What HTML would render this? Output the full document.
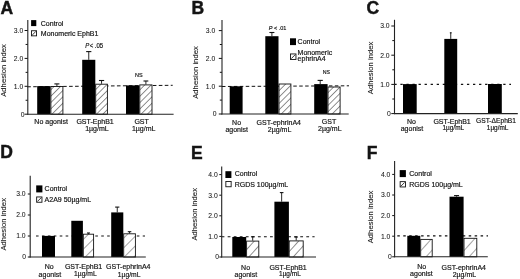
<!DOCTYPE html>
<html><head><meta charset="utf-8"><style>
html,body{margin:0;padding:0;background:#fff;width:520px;height:279px;overflow:hidden}
svg{display:block}
text{font-family:"Liberation Sans",sans-serif;fill:#141414;stroke:#141414;stroke-width:0.18px}
svg{will-change:transform}
</style></head><body>
<svg width="520" height="279" viewBox="0 0 520 279">
<defs>
<pattern id="hatch" patternUnits="userSpaceOnUse" width="4.5" height="6" patternTransform="rotate(45)">
<rect width="4.5" height="6" fill="#fff"/><line x1="0" y1="0" x2="0" y2="6" stroke="#222" stroke-width="1.0"/></pattern>
<pattern id="hatch2" patternUnits="userSpaceOnUse" width="6.6" height="6" patternTransform="rotate(42)">
<rect width="6.6" height="6" fill="#fff"/><line x1="0" y1="0" x2="0" y2="6" stroke="#222" stroke-width="1.0"/></pattern>
<pattern id="hatchD" patternUnits="userSpaceOnUse" width="6.9" height="6" patternTransform="rotate(45)">
<rect width="6.9" height="6" fill="#fff"/><line x1="0" y1="0" x2="0" y2="6" stroke="#333" stroke-width="0.9"/></pattern>
<pattern id="hatchF" patternUnits="userSpaceOnUse" width="8.0" height="6" patternTransform="rotate(42)">
<rect width="8.0" height="6" fill="#fff"/><line x1="0" y1="0" x2="0" y2="6" stroke="#333" stroke-width="0.9"/></pattern>
<pattern id="hatchs" patternUnits="userSpaceOnUse" width="5" height="5" patternTransform="rotate(45)">
<rect width="5" height="5" fill="#fff"/><line x1="0" y1="0" x2="0" y2="5" stroke="#222" stroke-width="1.1"/></pattern>
</defs>
<rect width="520" height="279" fill="#fff"/>
<text x="0" y="0" font-size="7.7" text-anchor="middle" transform="translate(6.0,70.5) rotate(-90)" style="stroke-width:0.1px">Adhesion index</text>
<line x1="24.60" y1="114.20" x2="27.80" y2="114.20" stroke="#111" stroke-width="1.0"/>
<text x="24.5" y="116.60000000000001" font-size="6.8" text-anchor="end" style="stroke-width:0.05px">0</text>
<line x1="25.60" y1="100.25" x2="27.80" y2="100.25" stroke="#111" stroke-width="1.0"/>
<line x1="24.60" y1="86.30" x2="27.80" y2="86.30" stroke="#111" stroke-width="1.0"/>
<text x="23.2" y="88.70000000000002" font-size="6.8" text-anchor="end" style="stroke-width:0.05px">1.0</text>
<line x1="25.60" y1="72.35" x2="27.80" y2="72.35" stroke="#111" stroke-width="1.0"/>
<line x1="24.60" y1="58.40" x2="27.80" y2="58.40" stroke="#111" stroke-width="1.0"/>
<text x="23.2" y="60.800000000000004" font-size="6.8" text-anchor="end" style="stroke-width:0.05px">2.0</text>
<line x1="25.60" y1="44.45" x2="27.80" y2="44.45" stroke="#111" stroke-width="1.0"/>
<line x1="24.60" y1="30.50" x2="27.80" y2="30.50" stroke="#111" stroke-width="1.0"/>
<text x="23.2" y="32.90000000000001" font-size="6.8" text-anchor="end" style="stroke-width:0.05px">3.0</text>
<line x1="27.24" y1="86.80" x2="172.70" y2="85.30" stroke="#111" stroke-width="1.0" stroke-dasharray="3.6 2.38"/>
<rect x="37.20" y="86.10" width="13.30" height="28.10" fill="#000"/>
<rect x="50.90" y="86.50" width="12.00" height="27.70" fill="url(#hatch)" stroke="#111" stroke-width="0.9"/>
<line x1="56.90" y1="83.90" x2="56.90" y2="86.10" stroke="#111" stroke-width="0.9"/>
<line x1="54.40" y1="83.90" x2="59.40" y2="83.90" stroke="#111" stroke-width="1.1"/>
<rect x="82.20" y="59.80" width="13.10" height="54.40" fill="#000"/>
<line x1="88.75" y1="51.60" x2="88.75" y2="59.80" stroke="#111" stroke-width="0.9"/>
<line x1="86.15" y1="51.60" x2="91.35" y2="51.60" stroke="#111" stroke-width="1.1"/>
<rect x="95.70" y="84.20" width="11.70" height="30.00" fill="url(#hatch)" stroke="#111" stroke-width="0.9"/>
<line x1="101.55" y1="80.50" x2="101.55" y2="83.80" stroke="#111" stroke-width="0.9"/>
<line x1="98.95" y1="80.50" x2="104.15" y2="80.50" stroke="#111" stroke-width="1.1"/>
<rect x="126.00" y="85.40" width="13.40" height="28.80" fill="#000"/>
<rect x="139.80" y="84.90" width="12.20" height="29.30" fill="url(#hatch)" stroke="#111" stroke-width="0.9"/>
<line x1="145.90" y1="81.00" x2="145.90" y2="84.50" stroke="#111" stroke-width="0.9"/>
<line x1="143.50" y1="81.00" x2="148.30" y2="81.00" stroke="#111" stroke-width="1.1"/>
<line x1="27.80" y1="20.00" x2="27.80" y2="114.70" stroke="#222" stroke-width="1.1"/>
<line x1="27.30" y1="114.20" x2="173.60" y2="114.20" stroke="#222" stroke-width="1.1"/>
<text x="51.1" y="123.8" font-size="7.0" text-anchor="middle" >No agonist</text>
<text x="95.1" y="123.8" font-size="7.0" text-anchor="middle" >GST-EphB1</text>
<text x="96.9" y="130.7" font-size="7.0" text-anchor="middle" >1µg/mL</text>
<text x="141.6" y="123.8" font-size="7.0" text-anchor="middle" >GST</text>
<text x="143.7" y="130.7" font-size="7.0" text-anchor="middle" >1µg/mL</text>
<rect x="31.10" y="20.10" width="5.20" height="6.00" fill="#000"/>
<text x="40.8" y="25.5" font-size="7.0" text-anchor="start" >Control</text>
<rect x="31.45" y="30.75" width="5.10" height="5.10" fill="#fff" stroke="#111" stroke-width="0.9"/>
<line x1="32.20" y1="35.10" x2="35.80" y2="31.50" stroke="#222" stroke-width="0.9"/>
<text x="40.8" y="35.7" font-size="7.0" text-anchor="start" >Monomeric EphB1</text>
<text x="85.3" y="47.6" font-size="6.4" text-anchor="start" textLength="17.9" lengthAdjust="spacingAndGlyphs"><tspan font-style="italic">P</tspan><tspan dx="0.4">&lt; .05</tspan></text>
<text x="135.1" y="76.5" font-size="6.2" text-anchor="start" textLength="7.6" lengthAdjust="spacingAndGlyphs">NS</text>
<text x="0.6" y="14.0" font-size="17.5" font-weight="bold" style="stroke-width:0.45px">A</text>
<text x="0" y="0" font-size="7.7" text-anchor="middle" transform="translate(198.0,72.5) rotate(-90)" style="stroke-width:0.1px">Adhesion index</text>
<line x1="218.80" y1="114.00" x2="222.00" y2="114.00" stroke="#111" stroke-width="1.0"/>
<text x="216.5" y="116.4" font-size="6.8" text-anchor="end" style="stroke-width:0.05px">0</text>
<line x1="219.80" y1="100.10" x2="222.00" y2="100.10" stroke="#111" stroke-width="1.0"/>
<line x1="218.80" y1="86.20" x2="222.00" y2="86.20" stroke="#111" stroke-width="1.0"/>
<text x="215.2" y="88.60000000000001" font-size="6.8" text-anchor="end" style="stroke-width:0.05px">1.0</text>
<line x1="219.80" y1="72.30" x2="222.00" y2="72.30" stroke="#111" stroke-width="1.0"/>
<line x1="218.80" y1="58.40" x2="222.00" y2="58.40" stroke="#111" stroke-width="1.0"/>
<text x="215.2" y="60.8" font-size="6.8" text-anchor="end" style="stroke-width:0.05px">2.0</text>
<line x1="219.80" y1="44.50" x2="222.00" y2="44.50" stroke="#111" stroke-width="1.0"/>
<line x1="218.80" y1="30.60" x2="222.00" y2="30.60" stroke="#111" stroke-width="1.0"/>
<text x="215.2" y="32.99999999999999" font-size="6.8" text-anchor="end" style="stroke-width:0.05px">3.0</text>
<line x1="222.00" y1="86.50" x2="349.00" y2="85.80" stroke="#111" stroke-width="1.0" stroke-dasharray="3.5 2.44"/>
<rect x="229.70" y="86.30" width="12.90" height="27.70" fill="#000"/>
<rect x="265.30" y="36.20" width="13.20" height="77.80" fill="#000"/>
<line x1="271.90" y1="32.50" x2="271.90" y2="36.20" stroke="#111" stroke-width="0.9"/>
<line x1="269.40" y1="32.50" x2="274.40" y2="32.50" stroke="#111" stroke-width="1.1"/>
<rect x="279.00" y="84.00" width="11.90" height="30.00" fill="url(#hatch)" stroke="#111" stroke-width="0.9"/>
<rect x="314.20" y="84.10" width="13.40" height="29.90" fill="#000"/>
<line x1="320.20" y1="80.40" x2="320.20" y2="84.10" stroke="#111" stroke-width="0.9"/>
<line x1="317.60" y1="80.40" x2="322.80" y2="80.40" stroke="#111" stroke-width="1.1"/>
<rect x="328.00" y="87.00" width="12.10" height="27.00" fill="url(#hatch)" stroke="#111" stroke-width="0.9"/>
<line x1="222.00" y1="20.00" x2="222.00" y2="114.50" stroke="#222" stroke-width="1.1"/>
<line x1="221.50" y1="114.00" x2="348.70" y2="114.00" stroke="#222" stroke-width="1.1"/>
<text x="236.6" y="124.6" font-size="7.0" text-anchor="middle" >No</text>
<text x="236.7" y="131.8" font-size="7.0" text-anchor="middle" >agonist</text>
<text x="278.8" y="124.6" font-size="7.0" text-anchor="middle" >GST-ephrinA4</text>
<text x="279.6" y="131.7" font-size="7.0" text-anchor="middle" >2µg/mL</text>
<text x="329.0" y="124.3" font-size="7.0" text-anchor="middle" >GST</text>
<text x="329.8" y="131.2" font-size="7.0" text-anchor="middle" >2µg/mL</text>
<rect x="290.00" y="38.30" width="6.00" height="6.80" fill="#000"/>
<text x="297.6" y="43.9" font-size="7.0" text-anchor="start" >Control</text>
<rect x="290.45" y="53.95" width="5.50" height="5.50" fill="#fff" stroke="#111" stroke-width="0.9"/>
<line x1="291.20" y1="58.70" x2="295.20" y2="54.70" stroke="#222" stroke-width="0.9"/>
<text x="297.6" y="54.8" font-size="7.0" text-anchor="start" >Monomeric</text>
<text x="297.6" y="61.099999999999994" font-size="7.0" text-anchor="start" >ephrinA4</text>
<text x="268.7" y="29.6" font-size="6.2" text-anchor="start" textLength="17.6" lengthAdjust="spacingAndGlyphs"><tspan font-style="italic">P</tspan> &lt; .01</text>
<text x="322.7" y="73.9" font-size="6.2" text-anchor="start" textLength="7.3" lengthAdjust="spacingAndGlyphs">NS</text>
<text x="191.6" y="14.0" font-size="17.5" font-weight="bold" style="stroke-width:0.45px">B</text>
<text x="0" y="0" font-size="7.7" text-anchor="middle" transform="translate(373.0,67.9) rotate(-90)" style="stroke-width:0.1px">Adhesion index</text>
<line x1="391.30" y1="113.60" x2="394.50" y2="113.60" stroke="#111" stroke-width="1.0"/>
<text x="390.90000000000003" y="116.0" font-size="6.8" text-anchor="end" style="stroke-width:0.05px">0</text>
<line x1="392.30" y1="99.00" x2="394.50" y2="99.00" stroke="#111" stroke-width="1.0"/>
<line x1="391.30" y1="84.40" x2="394.50" y2="84.40" stroke="#111" stroke-width="1.0"/>
<text x="389.6" y="86.8" font-size="6.8" text-anchor="end" style="stroke-width:0.05px">1.0</text>
<line x1="392.30" y1="69.80" x2="394.50" y2="69.80" stroke="#111" stroke-width="1.0"/>
<line x1="391.30" y1="55.20" x2="394.50" y2="55.20" stroke="#111" stroke-width="1.0"/>
<text x="389.6" y="57.599999999999994" font-size="6.8" text-anchor="end" style="stroke-width:0.05px">2.0</text>
<line x1="392.30" y1="40.60" x2="394.50" y2="40.60" stroke="#111" stroke-width="1.0"/>
<line x1="391.30" y1="26.00" x2="394.50" y2="26.00" stroke="#111" stroke-width="1.0"/>
<text x="389.6" y="28.4" font-size="6.8" text-anchor="end" style="stroke-width:0.05px">3.0</text>
<line x1="394.35" y1="84.40" x2="511.00" y2="84.40" stroke="#111" stroke-width="1.1" stroke-dasharray="2.3 3.75"/>
<rect x="403.00" y="84.10" width="13.70" height="29.50" fill="#000"/>
<rect x="444.30" y="38.90" width="12.90" height="74.70" fill="#000"/>
<line x1="450.75" y1="32.80" x2="450.75" y2="38.90" stroke="#111" stroke-width="0.9"/>
<line x1="449.85" y1="32.80" x2="451.65" y2="32.80" stroke="#111" stroke-width="1.1"/>
<rect x="488.00" y="84.00" width="13.80" height="29.60" fill="#000"/>
<line x1="394.50" y1="19.80" x2="394.50" y2="114.10" stroke="#222" stroke-width="1.1"/>
<line x1="394.00" y1="113.60" x2="517.80" y2="113.60" stroke="#222" stroke-width="1.1"/>
<text x="411.4" y="123.8" font-size="7.0" text-anchor="middle" >No</text>
<text x="412.0" y="130.5" font-size="7.0" text-anchor="middle" >agonist</text>
<text x="452.1" y="123.7" font-size="7.0" text-anchor="middle" >GST-EphB1</text>
<text x="453.3" y="129.5" font-size="7.0" text-anchor="middle" textLength="21.6" lengthAdjust="spacingAndGlyphs">1µg/mL</text>
<text x="496.0" y="123.4" font-size="7.0" text-anchor="middle" textLength="40.0" lengthAdjust="spacingAndGlyphs">GST-ΔEphB1</text>
<text x="497.6" y="129.5" font-size="7.0" text-anchor="middle" textLength="21.6" lengthAdjust="spacingAndGlyphs">1µg/mL</text>
<text x="366.5" y="14.0" font-size="17.5" font-weight="bold" style="stroke-width:0.45px">C</text>
<text x="0" y="0" font-size="7.7" text-anchor="middle" transform="translate(6.0,224.3) rotate(-90)" style="stroke-width:0.1px">Adhesion index</text>
<line x1="27.80" y1="257.00" x2="30.20" y2="257.00" stroke="#111" stroke-width="1.0"/>
<text x="26.1" y="259.4" font-size="6.8" text-anchor="end" style="stroke-width:0.05px">0</text>
<line x1="27.80" y1="236.00" x2="30.20" y2="236.00" stroke="#111" stroke-width="1.0"/>
<text x="25.6" y="238.4" font-size="6.8" text-anchor="end" style="stroke-width:0.05px">1.0</text>
<line x1="27.80" y1="215.00" x2="30.20" y2="215.00" stroke="#111" stroke-width="1.0"/>
<text x="25.6" y="217.4" font-size="6.8" text-anchor="end" style="stroke-width:0.05px">2.0</text>
<line x1="27.80" y1="194.00" x2="30.20" y2="194.00" stroke="#111" stroke-width="1.0"/>
<text x="25.6" y="196.4" font-size="6.8" text-anchor="end" style="stroke-width:0.05px">3.0</text>
<line x1="36.00" y1="236.00" x2="145.00" y2="236.00" stroke="#111" stroke-width="1.1" stroke-dasharray="2.6 3.33"/>
<rect x="42.00" y="235.90" width="13.00" height="21.10" fill="#000"/>
<rect x="71.30" y="220.80" width="11.60" height="36.20" fill="#000"/>
<rect x="83.30" y="234.20" width="10.30" height="22.80" fill="url(#hatchD)" stroke="#111" stroke-width="0.9"/>
<line x1="88.45" y1="233.00" x2="88.45" y2="233.80" stroke="#111" stroke-width="0.9"/>
<line x1="86.95" y1="233.00" x2="89.95" y2="233.00" stroke="#111" stroke-width="1.1"/>
<rect x="111.20" y="212.40" width="12.10" height="44.60" fill="#000"/>
<line x1="117.25" y1="207.10" x2="117.25" y2="212.40" stroke="#111" stroke-width="0.9"/>
<line x1="115.15" y1="207.10" x2="119.35" y2="207.10" stroke="#111" stroke-width="1.1"/>
<rect x="123.70" y="233.80" width="11.70" height="23.20" fill="url(#hatchD)" stroke="#111" stroke-width="0.9"/>
<line x1="129.55" y1="231.70" x2="129.55" y2="233.40" stroke="#111" stroke-width="0.9"/>
<line x1="127.80" y1="231.70" x2="131.30" y2="231.70" stroke="#111" stroke-width="1.1"/>
<line x1="30.20" y1="175.70" x2="30.20" y2="257.50" stroke="#222" stroke-width="1.1"/>
<line x1="29.70" y1="257.00" x2="145.80" y2="257.00" stroke="#222" stroke-width="1.1"/>
<text x="49.3" y="268.9" font-size="7.0" text-anchor="middle" >No</text>
<text x="49.9" y="276.5" font-size="7.0" text-anchor="middle" >agonist</text>
<text x="83.6" y="269.2" font-size="7.0" text-anchor="middle" >GST-EphB1</text>
<text x="85.4" y="276.3" font-size="7.0" text-anchor="middle" textLength="22.6" lengthAdjust="spacingAndGlyphs">1µg/mL</text>
<text x="128.3" y="269.2" font-size="7.0" text-anchor="middle" >GST-ephrinA4</text>
<text x="129.1" y="276.8" font-size="7.0" text-anchor="middle" textLength="22.6" lengthAdjust="spacingAndGlyphs">1µg/mL</text>
<rect x="36.20" y="185.40" width="6.20" height="7.00" fill="#000"/>
<text x="44.6" y="191.3" font-size="7.0" text-anchor="start" >Control</text>
<rect x="36.65" y="196.95" width="5.30" height="5.30" fill="#fff" stroke="#111" stroke-width="0.9"/>
<line x1="37.40" y1="201.50" x2="41.20" y2="197.70" stroke="#222" stroke-width="0.9"/>
<text x="44.6" y="202.0" font-size="7.0" text-anchor="start" >A2A9 50µg/mL</text>
<text x="0.3" y="158.3" font-size="17.5" font-weight="bold" style="stroke-width:0.45px">D</text>
<text x="0" y="0" font-size="7.7" text-anchor="middle" transform="translate(197.0,214.3) rotate(-90)" style="stroke-width:0.1px">Adhesion index</text>
<line x1="219.30" y1="257.00" x2="221.70" y2="257.00" stroke="#111" stroke-width="1.0"/>
<text x="219.0" y="259.4" font-size="6.8" text-anchor="end" style="stroke-width:0.05px">0</text>
<line x1="219.30" y1="236.40" x2="221.70" y2="236.40" stroke="#111" stroke-width="1.0"/>
<text x="217.7" y="238.8" font-size="6.8" text-anchor="end" style="stroke-width:0.05px">1.0</text>
<line x1="219.30" y1="215.80" x2="221.70" y2="215.80" stroke="#111" stroke-width="1.0"/>
<text x="217.7" y="218.20000000000002" font-size="6.8" text-anchor="end" style="stroke-width:0.05px">2.0</text>
<line x1="219.30" y1="195.20" x2="221.70" y2="195.20" stroke="#111" stroke-width="1.0"/>
<text x="217.7" y="197.6" font-size="6.8" text-anchor="end" style="stroke-width:0.05px">3.0</text>
<line x1="219.30" y1="174.60" x2="221.70" y2="174.60" stroke="#111" stroke-width="1.0"/>
<text x="217.7" y="177.0" font-size="6.8" text-anchor="end" style="stroke-width:0.05px">4.0</text>
<line x1="221.60" y1="236.80" x2="314.60" y2="236.80" stroke="#111" stroke-width="1.1" stroke-dasharray="2.8 3.25"/>
<rect x="232.30" y="237.00" width="13.90" height="20.00" fill="#000"/>
<rect x="246.60" y="241.10" width="12.20" height="15.90" fill="url(#hatch2)" stroke="#111" stroke-width="0.9"/>
<line x1="252.70" y1="236.80" x2="252.70" y2="240.70" stroke="#111" stroke-width="0.9"/>
<line x1="250.95" y1="236.80" x2="254.45" y2="236.80" stroke="#111" stroke-width="1.1"/>
<rect x="274.40" y="201.70" width="14.50" height="55.30" fill="#000"/>
<line x1="281.65" y1="192.60" x2="281.65" y2="201.70" stroke="#111" stroke-width="0.9"/>
<line x1="279.85" y1="192.60" x2="283.45" y2="192.60" stroke="#111" stroke-width="1.1"/>
<rect x="289.20" y="240.90" width="14.00" height="16.10" fill="url(#hatch2)" stroke="#111" stroke-width="0.9"/>
<line x1="296.20" y1="237.00" x2="296.20" y2="240.50" stroke="#111" stroke-width="0.9"/>
<line x1="294.45" y1="237.00" x2="297.95" y2="237.00" stroke="#111" stroke-width="1.1"/>
<line x1="221.70" y1="166.60" x2="221.70" y2="257.50" stroke="#222" stroke-width="1.1"/>
<line x1="221.20" y1="257.00" x2="316.00" y2="257.00" stroke="#222" stroke-width="1.1"/>
<text x="245.6" y="269.5" font-size="7.0" text-anchor="middle" >No</text>
<text x="245.8" y="276.5" font-size="7.0" text-anchor="middle" >agonist</text>
<text x="288.1" y="269.7" font-size="7.0" text-anchor="middle" >GST-EphB1</text>
<text x="289.9" y="276.3" font-size="7.0" text-anchor="middle" textLength="21.7" lengthAdjust="spacingAndGlyphs">1µg/mL</text>
<rect x="225.40" y="171.20" width="6.00" height="6.80" fill="#000"/>
<text x="234.7" y="175.5" font-size="7.0" text-anchor="start" >Control</text>
<rect x="225.85" y="181.45" width="5.30" height="5.30" fill="#fff" stroke="#111" stroke-width="0.9"/>
<text x="234.7" y="186.5" font-size="7.0" text-anchor="start" >RGDS 100µg/mL</text>
<text x="191.0" y="158.5" font-size="17.5" font-weight="bold" style="stroke-width:0.45px">E</text>
<text x="0" y="0" font-size="7.7" text-anchor="middle" transform="translate(373.2,217.0) rotate(-90)" style="stroke-width:0.1px">Adhesion index</text>
<line x1="392.20" y1="256.80" x2="394.60" y2="256.80" stroke="#111" stroke-width="1.0"/>
<text x="391.7" y="259.2" font-size="6.8" text-anchor="end" style="stroke-width:0.05px">0</text>
<line x1="392.20" y1="236.20" x2="394.60" y2="236.20" stroke="#111" stroke-width="1.0"/>
<text x="390.4" y="238.60000000000002" font-size="6.8" text-anchor="end" style="stroke-width:0.05px">1.0</text>
<line x1="392.20" y1="215.60" x2="394.60" y2="215.60" stroke="#111" stroke-width="1.0"/>
<text x="390.4" y="218.00000000000003" font-size="6.8" text-anchor="end" style="stroke-width:0.05px">2.0</text>
<line x1="392.20" y1="195.00" x2="394.60" y2="195.00" stroke="#111" stroke-width="1.0"/>
<text x="390.4" y="197.4" font-size="6.8" text-anchor="end" style="stroke-width:0.05px">3.0</text>
<line x1="392.20" y1="174.40" x2="394.60" y2="174.40" stroke="#111" stroke-width="1.0"/>
<text x="390.4" y="176.8" font-size="6.8" text-anchor="end" style="stroke-width:0.05px">4.0</text>
<line x1="397.30" y1="235.90" x2="488.00" y2="235.90" stroke="#111" stroke-width="1.1" stroke-dasharray="2.5 3.45"/>
<rect x="407.30" y="235.80" width="13.00" height="21.00" fill="#000"/>
<rect x="420.70" y="239.40" width="11.50" height="17.40" fill="url(#hatchF)" stroke="#111" stroke-width="0.9"/>
<rect x="449.50" y="196.70" width="14.10" height="60.10" fill="#000"/>
<line x1="456.55" y1="195.60" x2="456.55" y2="196.70" stroke="#111" stroke-width="0.9"/>
<line x1="454.05" y1="195.60" x2="459.05" y2="195.60" stroke="#111" stroke-width="1.1"/>
<rect x="464.00" y="238.30" width="12.80" height="18.50" fill="url(#hatchF)" stroke="#111" stroke-width="0.9"/>
<line x1="394.60" y1="161.10" x2="394.60" y2="257.30" stroke="#222" stroke-width="1.1"/>
<line x1="394.10" y1="256.80" x2="487.80" y2="256.80" stroke="#222" stroke-width="1.1"/>
<text x="421.7" y="269.3" font-size="7.0" text-anchor="middle" >No</text>
<text x="421.4" y="276.2" font-size="7.0" text-anchor="middle" >agonist</text>
<text x="463.8" y="269.5" font-size="7.0" text-anchor="middle" >GST-ephrinA4</text>
<text x="464.4" y="276.6" font-size="7.0" text-anchor="middle" >2µg/mL</text>
<rect x="399.70" y="170.10" width="6.20" height="7.00" fill="#000"/>
<text x="409.3" y="175.5" font-size="7.0" text-anchor="start" >Control</text>
<rect x="400.15" y="181.65" width="5.30" height="5.30" fill="#fff" stroke="#111" stroke-width="0.9"/>
<line x1="400.90" y1="186.20" x2="404.70" y2="182.40" stroke="#222" stroke-width="0.9"/>
<text x="409.3" y="186.5" font-size="7.0" text-anchor="start" >RGDS 100µg/mL</text>
<text x="366.8" y="158.5" font-size="17.5" font-weight="bold" style="stroke-width:0.45px">F</text>
</svg>
</body></html>
